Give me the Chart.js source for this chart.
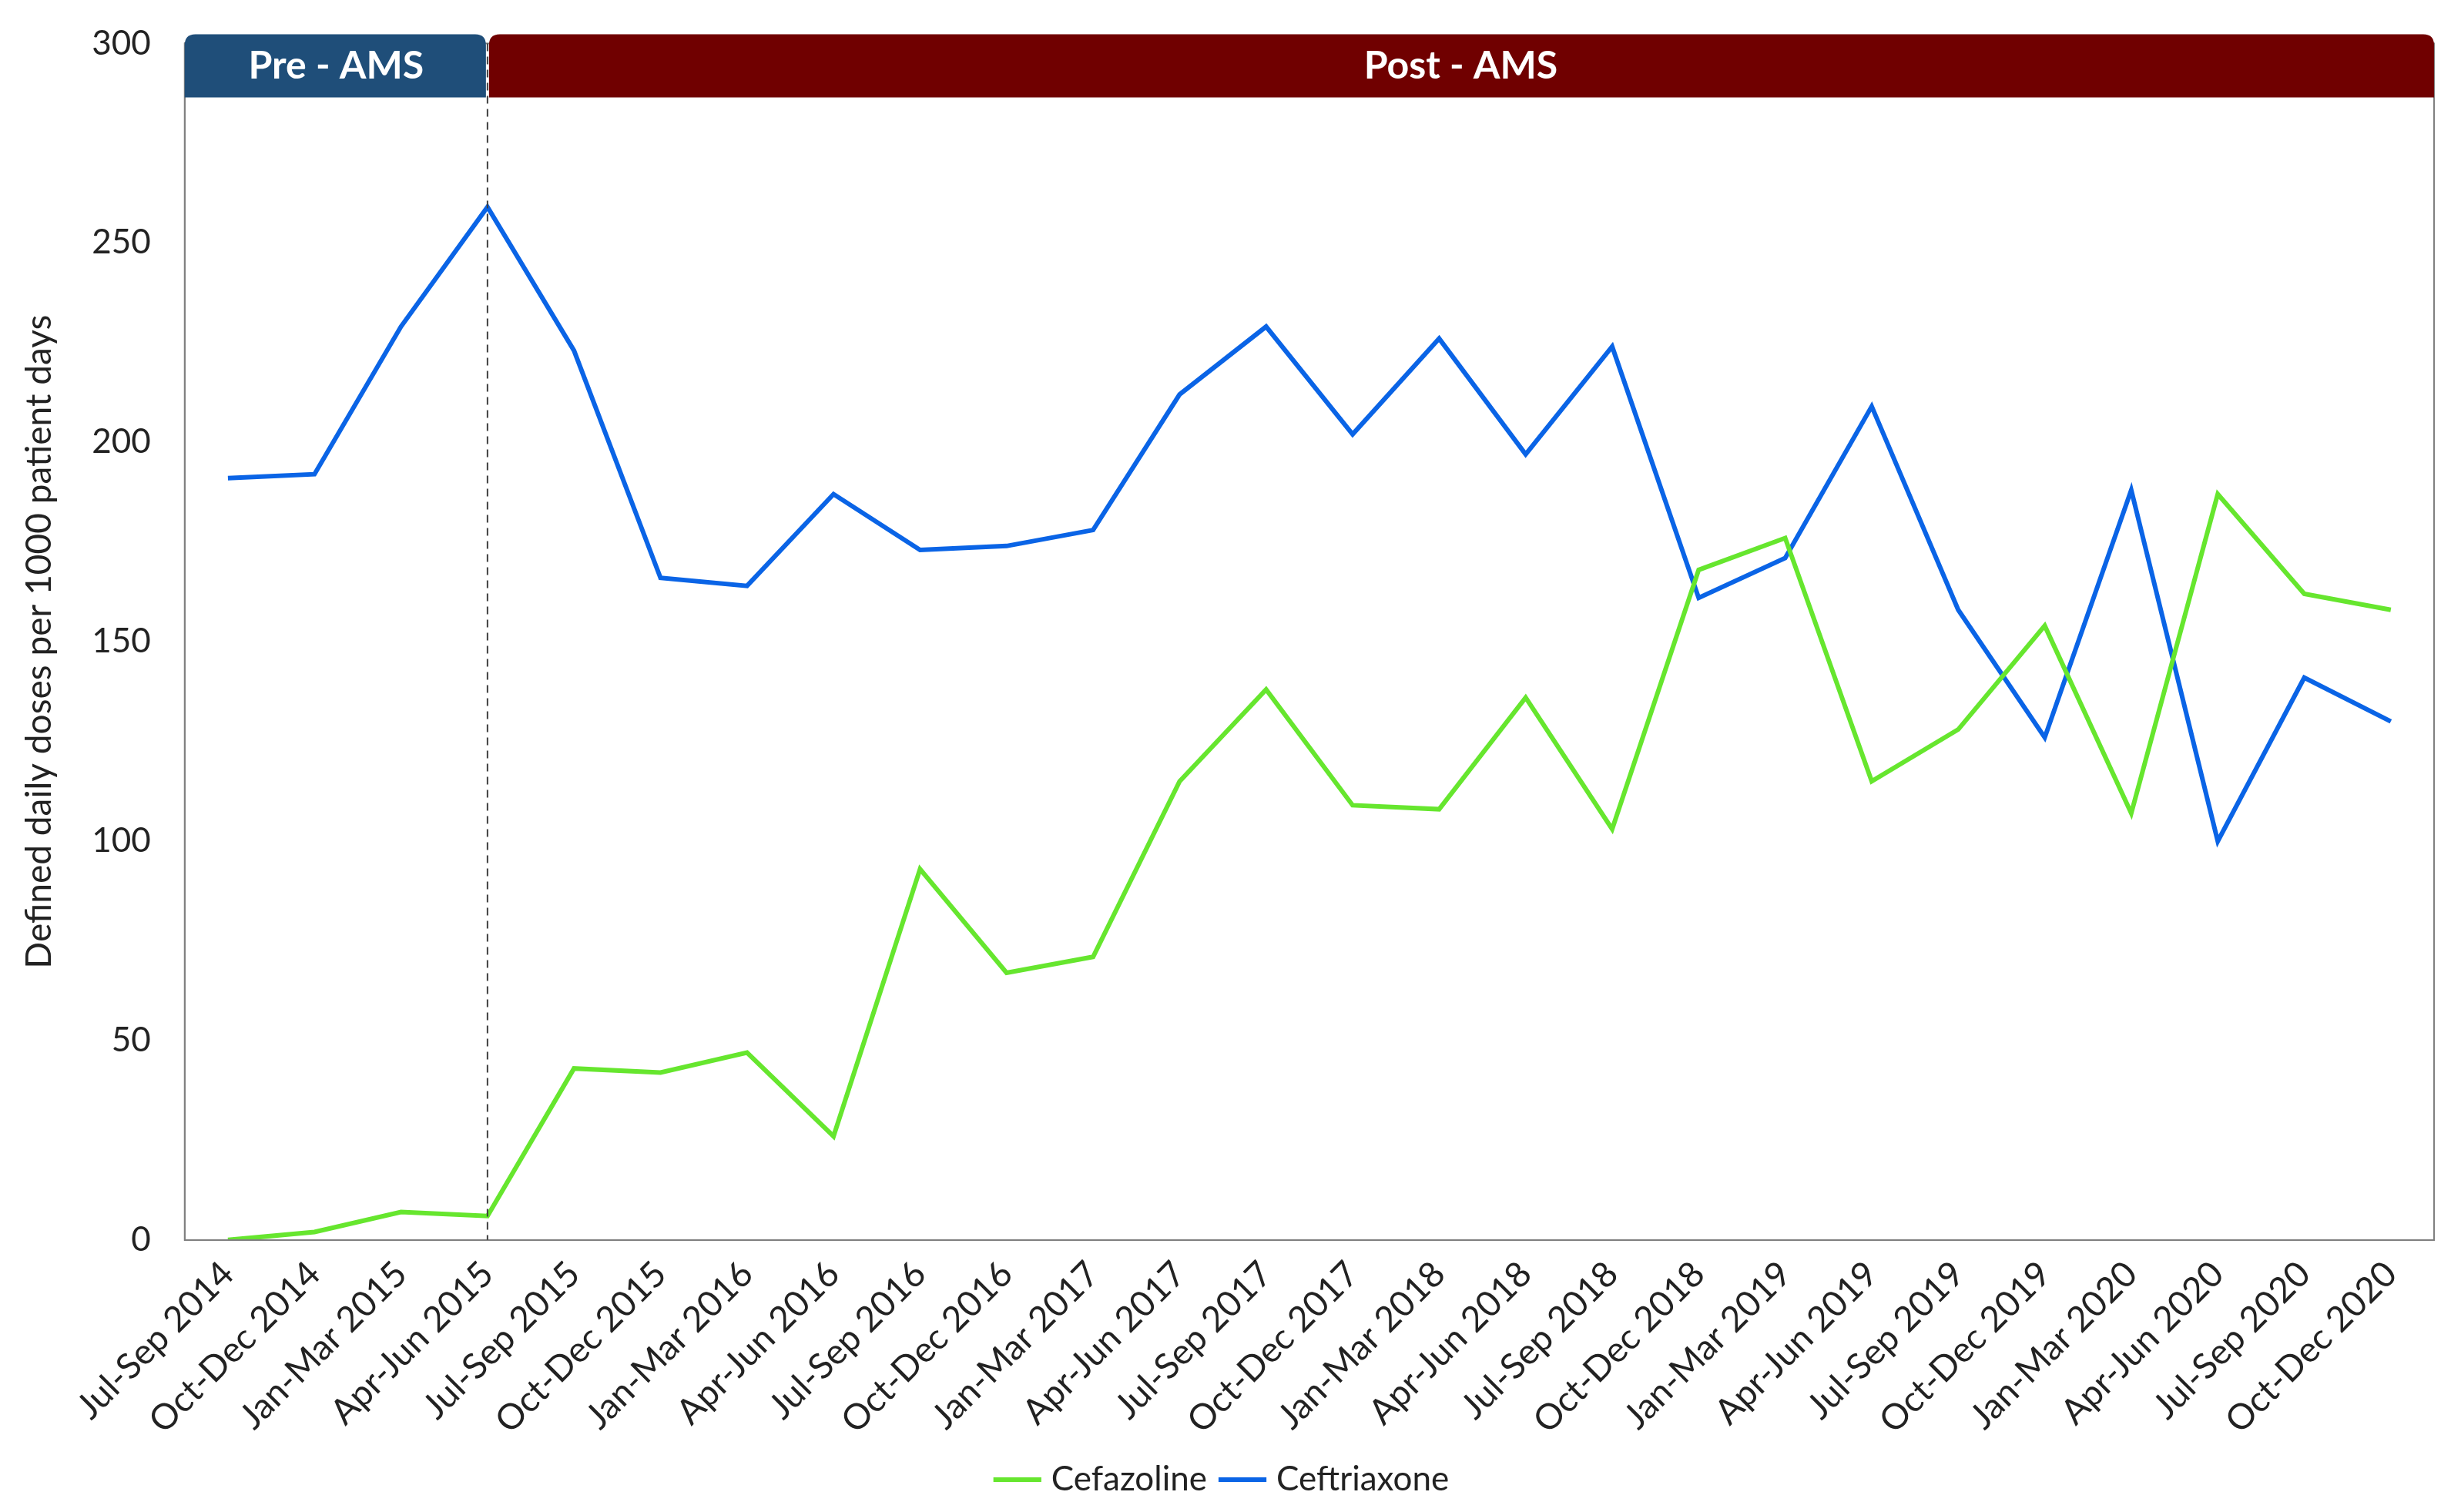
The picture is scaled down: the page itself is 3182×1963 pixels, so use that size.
<!DOCTYPE html>
<html><head><meta charset="utf-8">
<script src="https://cdn.jsdelivr.net/npm/chart.js@4/dist/chart.umd.min.js"></script>
<style>html,body{margin:0;padding:0;background:#fff}#wrap{width:3182px;height:1963px}</style>
</head><body><div id="wrap"><canvas id="c"></canvas></div>
<script>
const categories = ["Jul-Sep 2014","Oct-Dec 2014","Jan-Mar 2015","Apr-Jun 2015","Jul-Sep 2015","Oct-Dec 2015","Jan-Mar 2016","Apr-Jun 2016","Jul-Sep 2016","Oct-Dec 2016","Jan-Mar 2017","Apr-Jun 2017","Jul-Sep 2017","Oct-Dec 2017","Jan-Mar 2018","Apr-Jun 2018","Jul-Sep 2018","Oct-Dec 2018","Jan-Mar 2019","Apr-Jun 2019","Jul-Sep 2019","Oct-Dec 2019","Jan-Mar 2020","Apr-Jun 2020","Jul-Sep 2020","Oct-Dec 2020"];
const cefazoline = [0,2,7,6,43,42,47,26,93,67,71,115,138,109,108,136,103,168,176,115,128,154,107,187,162,158];
const ceftriaxone = [191,192,229,259,223,166,164,187,173,174,178,212,229,202,226,197,224,161,171,209,158,126,188,100,141,130];
const phaseLabels = ["Pre - AMS","Post - AMS"];
const dividerCategory = "Apr-Jun 2015";

function rr(ctx,x,y,w,h,r){ctx.beginPath();ctx.moveTo(x+r,y);ctx.lineTo(x+w-r,y);ctx.quadraticCurveTo(x+w,y,x+w,y+r);ctx.lineTo(x+w,y+h);ctx.lineTo(x,y+h);ctx.lineTo(x,y+r);ctx.quadraticCurveTo(x,y,x+r,y);ctx.closePath();}

const overlay = {
  id:'overlay',
  afterDatasetsDraw(chart){
    const ctx=chart.ctx, a=chart.chartArea, xs=chart.scales.x;
    const dx = xs.getPixelForValue(categories.indexOf(dividerCategory));
    ctx.save();
    ctx.strokeStyle='#808080';ctx.lineWidth=2;
    ctx.strokeRect(a.left,a.top,a.right-a.left,a.bottom-a.top);
    ctx.setLineDash([10,7]);ctx.strokeStyle='#404040';
    ctx.beginPath();ctx.moveTo(dx,a.top);ctx.lineTo(dx,a.bottom);ctx.stroke();
    ctx.setLineDash([]);
    const top=a.top-12, h=82;
    ctx.fillStyle='#1F4E79'; rr(ctx,a.left,top,dx-2-a.left,h,14); ctx.fill();
    ctx.fillStyle='#700000'; rr(ctx,dx+2,top,a.right-dx-2,h,14); ctx.fill();
    ctx.fillStyle='#fff';ctx.font='bold 50px Lato';ctx.textAlign='center';ctx.textBaseline='middle';
    ctx.fillText(phaseLabels[0],(a.left+dx)/2,top+h/2);
    ctx.fillText(phaseLabels[1],(dx+a.right)/2,top+h/2);
    ctx.restore();
  }
};

new Chart(document.getElementById('c'),{
  type:'line',
  data:{labels:categories,datasets:[
    {label:'Cefazoline',data:cefazoline,borderColor:'#66E62E',backgroundColor:'#66E62E',borderWidth:6,pointRadius:0,tension:0},
    {label:'Ceftriaxone',data:ceftriaxone,borderColor:'#0A64E6',backgroundColor:'#0A64E6',borderWidth:6,pointRadius:0,tension:0}
  ]},
  options:{
    responsive:true,maintainAspectRatio:false,animation:false,devicePixelRatio:1,
    layout:{padding:{left:20,top:40,right:22,bottom:10}},
    plugins:{legend:{position:'bottom',labels:{font:{size:44,family:'Lato'},color:'#222',usePointStyle:true,pointStyle:'line',boxWidth:60,padding:24}},tooltip:{enabled:false}},
    scales:{
      x:{offset:true,grid:{display:false,drawTicks:true,tickLength:14},border:{color:'#808080',width:2},
         ticks:{autoSkip:false,maxRotation:45,minRotation:45,font:{size:46,family:'Lato'},color:'#222'}},
      y:{min:0,max:300,grid:{display:false,tickLength:14},border:{color:'#808080',width:2},
         ticks:{stepSize:50,font:{size:44,family:'Lato'},color:'#222',padding:30},
         title:{display:true,text:'Defined daily doses per 1000 patient days',font:{size:46,family:'Lato'},color:'#222',padding:{bottom:10}}}
    }
  },
  plugins:[overlay]
});
</script></body></html>
